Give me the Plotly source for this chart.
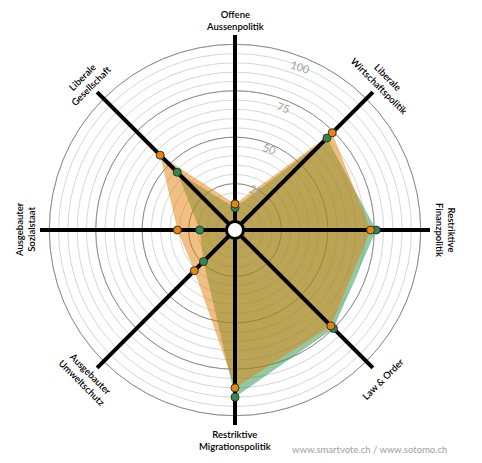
import numpy as np
import plotly.graph_objects as go

categories = [
    "Offene<br>Aussenpolitik",
    "Liberale<br>Wirtschaftspolitik",
    "Restriktive<br>Finanzpolitik",
    "Law & Order",
    "Restriktive<br>Migrationspolitik",
    "Ausgebauter<br>Umweltschutz",
    "Ausgebauter<br>Sozialstaat",
    "Liberale<br>Gesellschaft",
]
orange_vals = [14, 74, 73, 73, 85, 31, 31, 57]
green_vals = [12, 70, 76, 75, 90, 24, 19, 44]
radial_ticks = [25, 50, 75, 100]
minor_ticks = list(range(5, 101, 5))

W, H = 482, 463
OFF = 8                # page body margin of the html
CX, CY = 235 - OFF, 230 - OFF
R_PX = 195             # radius of the polar range in px
R_MAX = 105

dom_x = [(CX - R_PX) / W, (CX + R_PX) / W]
dom_y = [(H - CY - R_PX) / H, (H - CY + R_PX) / H]

theta_cat = [c.replace("<br>", " ") for c in categories]

fig = go.Figure()

# dummy trace so the light grid subplot is drawn
fig.add_trace(go.Scatterpolar(
    r=[0], theta=theta_cat[:1], mode="markers", subplot="polar",
    marker=dict(size=1, color="rgba(0,0,0,0)"), hoverinfo="skip"))

# fills (middle layer)
fig.add_trace(go.Scatterpolar(
    r=green_vals + green_vals[:1], theta=theta_cat + theta_cat[:1],
    fill="toself", mode="lines", line=dict(width=0, color="rgba(0,0,0,0)"),
    fillcolor="rgba(40,145,70,0.5)", subplot="polar2", hoverinfo="skip"))
fig.add_trace(go.Scatterpolar(
    r=orange_vals + orange_vals[:1], theta=theta_cat + theta_cat[:1],
    fill="toself", mode="lines", line=dict(width=0, color="rgba(0,0,0,0)"),
    fillcolor="rgba(228,128,10,0.5)", subplot="polar2", hoverinfo="skip"))

# markers (top layer)
fig.add_trace(go.Scatterpolar(
    r=green_vals, theta=theta_cat, mode="markers", subplot="polar3",
    marker=dict(size=8, color="#2e8b50", line=dict(width=1, color="#333"))))
fig.add_trace(go.Scatterpolar(
    r=orange_vals, theta=theta_cat, mode="markers", subplot="polar3",
    marker=dict(size=8, color="#e8850c", line=dict(width=1, color="#333"))))
# white hub
fig.add_trace(go.Scatterpolar(
    r=[0], theta=theta_cat[:1], mode="markers", subplot="polar3",
    marker=dict(size=17, color="white", line=dict(width=3, color="black"))))

ang = dict(type="category", categoryarray=theta_cat, direction="clockwise",
           rotation=90, showline=False, showticklabels=False, ticks="")

fig.update_layout(
    width=W, height=H, margin=dict(l=0, r=0, t=0, b=0),
    paper_bgcolor="white", showlegend=False,
    polar=dict(
        domain=dict(x=dom_x, y=dom_y), bgcolor="white",
        radialaxis=dict(range=[0, R_MAX], tickvals=minor_ticks, showticklabels=False,
                        showline=False, ticks="", gridcolor="#d6d6d6", gridwidth=1),
        angularaxis=dict(ang, showgrid=False),
    ),
    polar2=dict(
        domain=dict(x=dom_x, y=dom_y), bgcolor="rgba(0,0,0,0)",
        radialaxis=dict(range=[0, R_MAX], tickvals=radial_ticks, showticklabels=False,
                        showline=False, ticks="", gridcolor="#8c8c8c", gridwidth=1),
        angularaxis=dict(ang, showgrid=False),
    ),
    polar3=dict(
        domain=dict(x=dom_x, y=dom_y), bgcolor="rgba(0,0,0,0)",
        radialaxis=dict(range=[0, R_MAX], showgrid=False, showline=False, ticks="",
                        tickvals=[v * 0.94 for v in radial_ticks],
                        ticktext=[str(v) for v in radial_ticks],
                        angle=71.5, tickangle=90,
                        tickfont=dict(family="Lato", size=11, color="#a0a0a0")),
        angularaxis=dict(ang, showgrid=True, gridcolor="black", gridwidth=4),
    ),
)

# rotated axis labels
LABEL_R = 210
for i, lab in enumerate(categories):
    t = 90 - i * 45
    if t < -180:
        t += 360
    x = CX + LABEL_R * np.cos(np.radians(t))
    y = CY - LABEL_R * np.sin(np.radians(t))
    if t == -180:
        rot = -90
    elif t >= 0:
        rot = 90 - t
    else:
        rot = -(90 + t)
    fig.add_annotation(x=x / W, y=1 - y / H, xref="paper", yref="paper",
                       text=lab, showarrow=False, textangle=rot,
                       xanchor="center", yanchor="middle", align="center",
                       font=dict(family="Lato", size=9.5, color="black", weight=600))

fig.add_annotation(x=(449 - OFF) / W, y=1 - (449 - OFF) / H, xref="paper", yref="paper",
                   text="www.smartvote.ch / www.sotomo.ch", showarrow=False,
                   xanchor="right", yanchor="middle",
                   font=dict(family="Lato", size=9.5, color="#a0a0a0"))

fig.write_html("out.html")
